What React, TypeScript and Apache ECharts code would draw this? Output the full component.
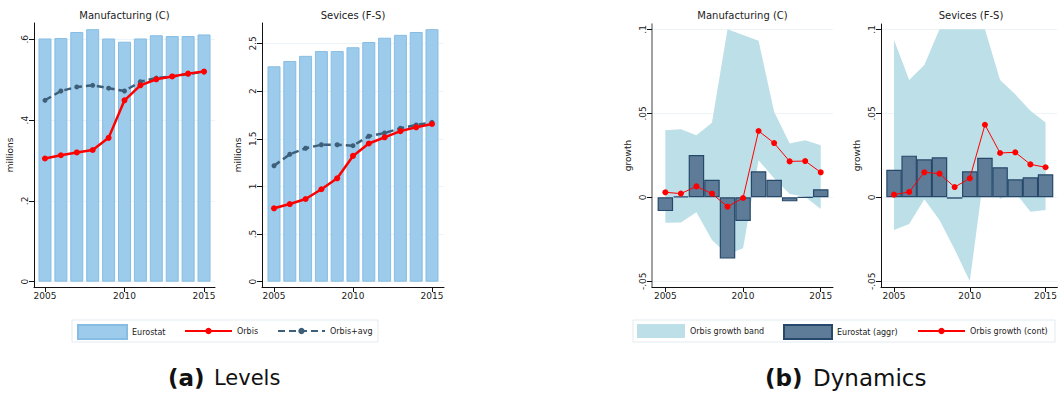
import React, { useEffect, useRef } from "react";
import * as echarts from "echarts";

const years = [2005, 2006, 2007, 2008, 2009, 2010, 2011, 2012, 2013, 2014, 2015];
const xTicks = [2005, 2010, 2015];

// (a) Levels — Manufacturing (C), millions
const mfgEurostat = [0.602, 0.603, 0.618, 0.625, 0.602, 0.594, 0.602, 0.61, 0.608, 0.608, 0.612];
const mfgOrbis = [0.305, 0.313, 0.32, 0.326, 0.356, 0.449, 0.486, 0.501, 0.508, 0.515, 0.52];
const mfgOrbisAvg = [0.449, 0.472, 0.482, 0.486, 0.479, 0.472, 0.495, 0.504, 0.508, 0.514, 0.52];
const mfgLevelTicks = [0, 0.2, 0.4, 0.6];

// (a) Levels — Sevices (F-S), millions
const svcEurostat = [2.26, 2.316, 2.37, 2.42, 2.42, 2.46, 2.515, 2.56, 2.59, 2.62, 2.65];
const svcOrbis = [0.77, 0.815, 0.868, 0.97, 1.085, 1.32, 1.45, 1.515, 1.58, 1.62, 1.655];
const svcOrbisAvg = [1.217, 1.337, 1.4, 1.437, 1.437, 1.427, 1.526, 1.56, 1.61, 1.644, 1.672];
const svcLevelTicks = [0, 0.5, 1, 1.5, 2, 2.5];

// (b) Dynamics — Manufacturing (C), growth
const mfgGrowthEurostat = [-0.0082, 0.0006, 0.0252, 0.0105, -0.0365, -0.0141, 0.0155, 0.0105, -0.0024, 0.0, 0.0048];
const mfgGrowthOrbis = [0.003, 0.0022, 0.0065, 0.0022, -0.0056, -0.0004, 0.0395, 0.0323, 0.0214, 0.0216, 0.0149];
const mfgBandLower = [-0.0151, -0.015, -0.0089, -0.0254, -0.034, -0.0304, 0.022, 0.0113, 0.002, 0.0004, -0.007];
const mfgBandUpper = [0.04, 0.0405, 0.037, 0.0444, 0.1, 0.0966, 0.0932, 0.051, 0.032, 0.034, 0.031];

// (b) Dynamics — Sevices (F-S), growth
const svcGrowthEurostat = [0.0164, 0.0248, 0.0226, 0.0238, -0.0008, 0.0155, 0.0236, 0.0179, 0.0107, 0.0119, 0.0137];
const svcGrowthOrbis = [0.0016, 0.0032, 0.0149, 0.0141, 0.0061, 0.0113, 0.0432, 0.0264, 0.0268, 0.0196, 0.0179];
const svcBandLower = [-0.0195, -0.0159, -0.0012, -0.0135, -0.031, -0.05, 0.018, -0.001, 0.003, -0.0086, -0.0076];
const svcBandUpper = [0.0936, 0.0698, 0.0788, 0.1, 0.1, 0.1, 0.1, 0.0698, 0.0613, 0.0516, 0.0446];
const growthTicks = [-0.05, 0, 0.05, 0.1];

const FONT = "DejaVu Sans";
const RED = "#ff0000";
const DASH = "#3e5f79";
const LIGHT_BAR = "#9ccbeb";
const LIGHT_BAR_BORDER = "#88bde3";
const DARK_BAR = "#5e7c97";
const DARK_BAR_BORDER = "#26486a";
const BAND = "#bcdfe8";

const pairs = (arr: number[]) => years.map((y, i) => [y, arr[i]]);

const fmtNum = (v: number) => {
  const r = Math.round(v * 1000) / 1000;
  let s = String(r);
  if (s.startsWith("0.")) s = s.slice(1);
  if (s.startsWith("-0.")) s = "-" + s.slice(2);
  return s;
};

function xAxis(gridIndex: number, min: number, max: number) {
  return {
    type: "value",
    gridIndex,
    min,
    max,
    axisLine: { show: true, onZero: false, lineStyle: { color: "#111", width: 1 } },
    axisTick: { show: true, customValues: xTicks, length: 5, lineStyle: { color: "#111" } },
    axisLabel: {
      customValues: xTicks,
      fontSize: 9,
      color: "#222",
      margin: 4,
      fontFamily: FONT,
      formatter: (v: number) => String(v),
    },
    splitLine: { show: false },
  };
}

function yAxis(gridIndex: number, min: number, max: number, ticks: number[], name: string, axisColor = "#111", axisWidth = 1) {
  return {
    type: "value",
    gridIndex,
    min,
    max,
    name,
    nameLocation: "middle",
    nameGap: 20,
    nameRotate: 90,
    nameTextStyle: { fontSize: 9, color: "#222", fontFamily: FONT },
    axisLine: { show: true, onZero: false, lineStyle: { color: axisColor, width: axisWidth } },
    axisTick: { show: true, customValues: ticks, length: 5, lineStyle: { color: "#111" } },
    axisLabel: {
      customValues: ticks,
      rotate: 90,
      fontSize: 9,
      color: "#222",
      margin: 5,
      fontFamily: FONT,
      formatter: (v: number) => fmtNum(v),
    },
    splitLine: { show: true, lineStyle: { color: "#edf4f7", width: 1 } },
  };
}

function levelSeries(idx: number, eurostat: number[], orbis: number[], avg: number[]) {
  return [
    {
      name: "Eurostat",
      type: "bar",
      xAxisIndex: idx,
      yAxisIndex: idx,
      barWidth: 13,
      data: pairs(eurostat),
      itemStyle: { color: LIGHT_BAR, borderColor: LIGHT_BAR_BORDER, borderWidth: 1 },
    },
    {
      name: "Orbis+avg",
      type: "line",
      xAxisIndex: idx,
      yAxisIndex: idx,
      data: pairs(avg),
      symbol: "circle",
      symbolSize: 5,
      color: DASH,
      lineStyle: { color: DASH, width: 2.5, type: [7, 4] },
      itemStyle: { color: DASH },
    },
    {
      name: "Orbis",
      type: "line",
      xAxisIndex: idx,
      yAxisIndex: idx,
      data: pairs(orbis),
      symbol: "circle",
      symbolSize: 6,
      color: RED,
      lineStyle: { color: RED, width: 2.5 },
      itemStyle: { color: RED },
    },
  ];
}

function growthSeries(idx: number, lower: number[], upper: number[], eurostat: number[], orbis: number[]) {
  return [
    {
      name: "Orbis growth band",
      type: "custom",
      xAxisIndex: idx,
      yAxisIndex: idx,
      data: years.map((y, i) => [y, lower[i], upper[i]]),
      encode: { x: 0, y: [1, 2] },
      clip: true,
      silent: true,
      itemStyle: { color: BAND },
      renderItem: (params: any, api: any) => {
        if (params.dataIndex !== 0) return null;
        const top = years.map((y, i) => api.coord([y, upper[i]]));
        const bottom = years.map((y, i) => api.coord([y, lower[i]])).reverse();
        return {
          type: "polygon",
          shape: { points: top.concat(bottom) },
          style: { fill: BAND, stroke: "none" },
          silent: true,
        };
      },
    },
    {
      name: "Eurostat (aggr)",
      type: "bar",
      xAxisIndex: idx,
      yAxisIndex: idx,
      barWidth: 15.5,
      data: pairs(eurostat),
      itemStyle: { color: DARK_BAR, borderColor: DARK_BAR_BORDER, borderWidth: 1.2 },
    },
    {
      name: "Orbis growth (cont)",
      type: "line",
      xAxisIndex: idx,
      yAxisIndex: idx,
      data: pairs(orbis),
      symbol: "circle",
      symbolSize: 6,
      color: RED,
      lineStyle: { color: RED, width: 1 },
      itemStyle: { color: RED },
    },
  ];
}

function legendItem(name: string, left: number, top: number, icon: string | null, w: number, h: number, extra: any = {}) {
  const item: any = { name, ...extra };
  if (icon) item.icon = icon;
  return {
    data: [item],
    left,
    top,
    padding: 0,
    itemWidth: w,
    itemHeight: h,
    selectedMode: false,
    textStyle: { fontSize: 8, color: "#222", fontFamily: FONT },
  };
}

function caption(label: string, word: string, x0: number, x1: number, wordSize: number) {
  return [
    {
      type: "text",
      x: x0,
      y: 378,
      style: { text: label, align: "left", verticalAlign: "middle", fontSize: 23, fontWeight: "bold", fill: "#111", fontFamily: FONT },
    },
    {
      type: "text",
      x: x1,
      y: 378,
      style: { text: word, align: "left", verticalAlign: "middle", fontSize: wordSize, fill: "#111", fontFamily: FONT },
    },
  ];
}

export default function App() {
  const ref = useRef<HTMLDivElement>(null);

  useEffect(() => {
    if (!ref.current) return;
    const chart = echarts.init(ref.current, null, { renderer: "svg" });
    const option: any = {
      animation: false,
      backgroundColor: "#ffffff",
      textStyle: { fontFamily: FONT },
      grid: [
        { left: 34, top: 23, width: 181, height: 264 },
        { left: 262, top: 23, width: 182, height: 264 },
        { left: 652, top: 24, width: 181, height: 263 },
        { left: 881, top: 24, width: 180, height: 263 },
      ],
      xAxis: [
        xAxis(0, 2004.31, 2015.69),
        xAxis(1, 2004.24, 2015.76),
        xAxis(2, 2004.14, 2015.79),
        xAxis(3, 2004.14, 2015.78),
      ],
      yAxis: [
        yAxis(0, -0.0131, 0.6403, mfgLevelTicks, "millions"),
        yAxis(1, -0.0556, 2.7146, svcLevelTicks, "millions"),
        yAxis(2, -0.0534, 0.1032, growthTicks, "growth", "#8a8a8a", 1.6),
        yAxis(3, -0.0534, 0.1032, growthTicks, "growth"),
      ],
      legend: [
        legendItem("Eurostat", 77, 324, "rect", 49, 14),
        legendItem("Orbis", 184, 327, null, 47, 8),
        legendItem("Orbis+avg", 277, 327, null, 47, 8),
        legendItem("Orbis growth band", 637, 324, "rect", 48, 14, { itemStyle: { color: BAND } }),
        legendItem("Eurostat (aggr)", 783, 324, "rect", 48, 14),
        legendItem("Orbis growth (cont)", 917, 327, null, 47, 8),
      ],
      graphic: [
        { type: "rect", shape: { x: 72, y: 320, width: 306, height: 22 }, style: { fill: "none", stroke: "#e2ebef", lineWidth: 1 }, silent: true },
        { type: "rect", shape: { x: 633, y: 320, width: 422, height: 22 }, style: { fill: "none", stroke: "#e2ebef", lineWidth: 1 }, silent: true },
        { type: "text", x: 124.5, y: 15, style: { text: "Manufacturing (C)", align: "center", verticalAlign: "middle", fontSize: 10, fill: "#222", fontFamily: FONT } },
        { type: "text", x: 353, y: 15, style: { text: "Sevices (F-S)", align: "center", verticalAlign: "middle", fontSize: 10, fill: "#222", fontFamily: FONT } },
        { type: "text", x: 742.5, y: 15, style: { text: "Manufacturing (C)", align: "center", verticalAlign: "middle", fontSize: 10, fill: "#222", fontFamily: FONT } },
        { type: "text", x: 971, y: 15, style: { text: "Sevices (F-S)", align: "center", verticalAlign: "middle", fontSize: 10, fill: "#222", fontFamily: FONT } },
        ...caption("(a)", "Levels", 168, 214, 21),
        ...caption("(b)", "Dynamics", 765, 813, 23),
      ],
      series: [
        ...levelSeries(0, mfgEurostat, mfgOrbis, mfgOrbisAvg),
        ...levelSeries(1, svcEurostat, svcOrbis, svcOrbisAvg),
        ...growthSeries(2, mfgBandLower, mfgBandUpper, mfgGrowthEurostat, mfgGrowthOrbis),
        ...growthSeries(3, svcBandLower, svcBandUpper, svcGrowthEurostat, svcGrowthOrbis),
      ],
    };
    chart.setOption(option);
    return () => chart.dispose();
  }, []);

  return (
    <div
      ref={ref}
      style={{ position: "absolute", left: 0, top: 0, width: 1060, height: 394, background: "#fff" }}
    />
  );
}
